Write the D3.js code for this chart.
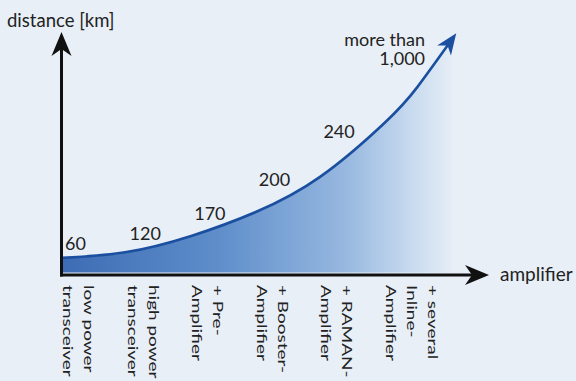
<!DOCTYPE html>
<html>
<head>
<meta charset="utf-8">
<script src="https://cdn.jsdelivr.net/npm/d3@7"></script>
<style>
  body { margin: 0; background: #e8eff7; }
  svg { display: block; font-family: Lato, sans-serif; }
</style>
</head>
<body>
<script>

/*** data ***/

// setups along the x axis, one line of text per entry
let categories = [
    ["low power", "transceiver"],
    ["high power", "transceiver"],
    ["+ Pre-", "Amplifier"],
    ["+ Booster-", "Amplifier"],
    ["+ RAMAN-", "Amplifier"],
    ["+ several", "Inline-", "Amplifier"]
]

// distance reached with each setup
let distanceLabels = [["60"], ["120"], ["170"], ["200"], ["240"], ["more than", "1,000"]]
let labelLevel = [10.2, 14.3, 22.5, 36.5, 56.1, 93.9]

// illustrative growth curve (step along x, relative height 0..100)
let curveStep = [0, 1, 2, 3, 4, 5, 5.5, 6.04]
let curveLevel = [7.0, 9.4, 16.0, 25.8, 40.3, 62.5, 77.0, 96.7]

const svgWidth = 576
const svgHeight = 381

let svg = d3.select("body")
    .append("svg")
    .attr("width", svgWidth)
    .attr("height", svgHeight)
    .style("background-color", "#e8eff7")

/* scales */
let xScale = d3.scaleLinear()
    .domain([0, 5])
    .range([62, 385])

let yScale = d3.scaleLinear()
    .domain([0, 100])
    .range([275, 31])

let points = curveStep.map((s, i) => [s, curveLevel[i]])

/* gradient under the curve */
let defs = svg.append("defs")
let grad = defs.append("linearGradient")
    .attr("id", "fade")
    .attr("gradientUnits", "userSpaceOnUse")
    .attr("x1", xScale(0)).attr("x2", xScale(6.1))
    .attr("y1", 0).attr("y2", 0)

let stops = [[0, "#3d6cb4"], [0.4, "#5f8ecb"], [0.72, "#97b8e0"], [0.88, "#c6d9ee"], [1, "#e8eff7"]]
grad.selectAll("stop")
    .data(stops)
    .enter()
    .append("stop")
    .attr("offset", d => d[0])
    .attr("stop-color", d => d[1])

defs.append("marker")
    .attr("id", "curveHead")
    .attr("viewBox", "-16 -9 24 18")
    .attr("refX", 0).attr("refY", 0)
    .attr("markerWidth", 24).attr("markerHeight", 18)
    .attr("markerUnits", "userSpaceOnUse")
    .attr("orient", "auto")
    .append("path")
    .attr("d", "M7,0 L-14,-8.5 L-8,0 L-14,8.5 Z")
    .attr("fill", "#1b4f9f")

let area = d3.area()
    .x(d => xScale(d[0]))
    .y0(yScale(1))
    .y1(d => yScale(d[1]))
    .curve(d3.curveNatural)

svg.append("path")
    .datum(points)
    .attr("d", area)
    .attr("fill", "url(#fade)")

let line = d3.line()
    .x(d => xScale(d[0]))
    .y(d => yScale(d[1]))
    .curve(d3.curveNatural)

svg.append("path")
    .datum(points)
    .attr("d", line)
    .attr("fill", "none")
    .attr("stroke", "#1b4f9f")
    .attr("stroke-width", 2.6)
    .attr("marker-end", "url(#curveHead)")

/* axes */
let x0 = xScale(0) - 0.5
let yBase = yScale(0)
let xEnd = 489
let yTop = 32

svg.append("line")
    .attr("x1", x0).attr("y1", yBase + 1.5)
    .attr("x2", x0).attr("y2", yTop + 16)
    .attr("stroke", "#111").attr("stroke-width", 3)

svg.append("line")
    .attr("x1", x0 - 1.5).attr("y1", yBase)
    .attr("x2", xEnd - 16).attr("y2", yBase)
    .attr("stroke", "#111").attr("stroke-width", 3)

let head = "M0,0 L-24,-10 L-17,0 L-24,10 Z"
svg.append("path")
    .attr("d", head)
    .attr("transform", `translate(${x0}, ${yTop}) rotate(-90)`)
    .attr("fill", "#111")

svg.append("path")
    .attr("d", head)
    .attr("transform", `translate(${xEnd}, ${yBase})`)
    .attr("fill", "#111")

/* axis titles */
svg.append("text")
    .attr("x", 7).attr("y", 27)
    .attr("fill", "#222")
    .style("font-size", "18.5px")
    .text("distance [km]")

svg.append("text")
    .attr("x", 500).attr("y", 281)
    .attr("fill", "#222")
    .style("font-size", "19px")
    .text("amplifier")

/* distance labels */
svg.selectAll(".dist")
    .data(distanceLabels)
    .enter()
    .append("text")
    .attr("class", "dist")
    .attr("fill", "#222")
    .style("font-size", "18px")
    .attr("text-anchor", (d, i) => i === distanceLabels.length - 1 ? "end" : "start")
    .attr("transform", (d, i) => {
        let x = i === distanceLabels.length - 1 ? xScale(5.62) : xScale(i) + 3
        return `translate(${x}, ${yScale(labelLevel[i])})`
    })
    .selectAll("tspan")
    .data(d => d)
    .enter()
    .append("tspan")
    .attr("x", 0)
    .attr("y", (d, j) => j * 19)
    .text(d => d)

/* category labels, rotated */
let pitch = 21
let squeeze = 0.75
svg.selectAll(".cat")
    .data(categories)
    .enter()
    .append("text")
    .attr("class", "cat")
    .attr("fill", "#222")
    .style("font-size", "19px")
    .attr("transform", (d, i) => `translate(${xScale(i) + 1}, 285) scale(${squeeze}, 1) rotate(90)`)
    .selectAll("tspan")
    .data(d => d.map((t, k) => [t, d.length - 1 - k]))
    .enter()
    .append("tspan")
    .attr("x", 0)
    .attr("y", d => -d[1] * pitch / squeeze)
    .text(d => d[0])

</script>
</body>
</html>
